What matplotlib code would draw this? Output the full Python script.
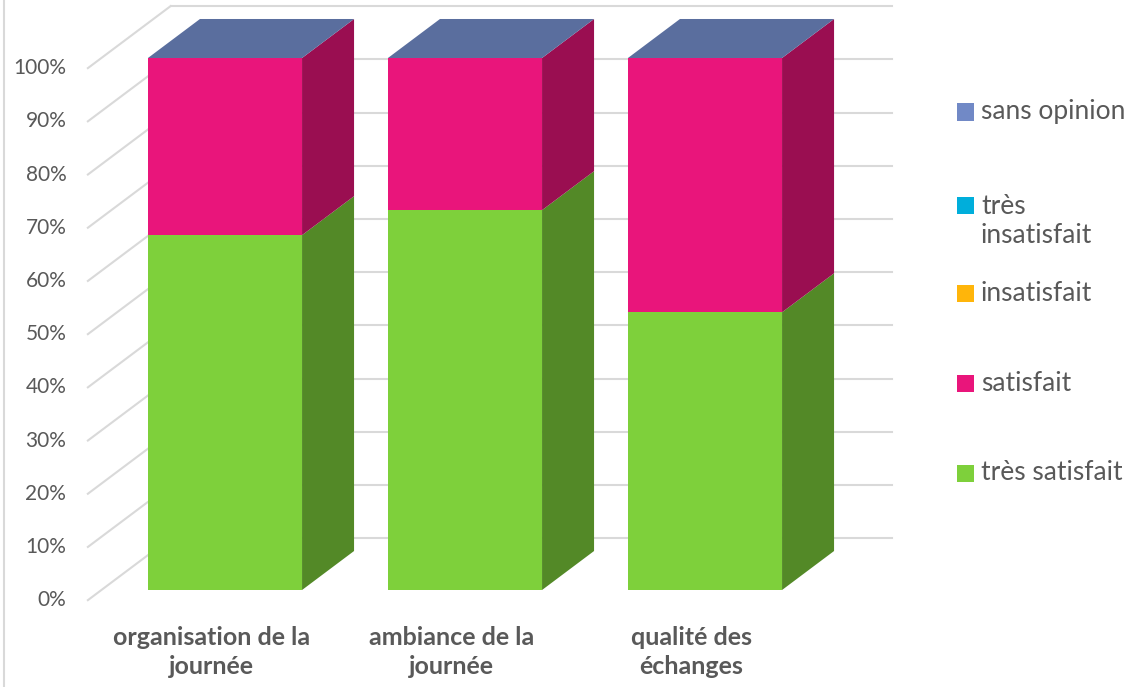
import matplotlib
matplotlib.use("Agg")
import matplotlib.pyplot as plt
from matplotlib.patches import Polygon, Rectangle
from matplotlib.lines import Line2D

# -------------- Data ----------------
categories = ["organisation de la\njournée", "ambiance de la\njournée", "qualité des\néchanges"]
series_names = ["très satisfait", "satisfait", "insatisfait", "très insatisfait", "sans opinion"]
tres_satisfait = [66.7, 71.4, 52.2]
satisfait = [33.3, 28.6, 47.8]
insatisfait = [0, 0, 0]
tres_insatisfait = [0, 0, 0]
sans_opinion = [0, 0, 0]
series_values = [tres_satisfait, satisfait, insatisfait, tres_insatisfait, sans_opinion]
colors = ["#7ED03B", "#E9157B", "#FFB50A", "#00AEDB", "#7189C6"]
yticks = [0, 10, 20, 30, 40, 50, 60, 70, 80, 90, 100]

plt.rcParams['font.family'] = ['Lato', 'DejaVu Sans']
TXT = "#595959"
GRID = "#D9D9D9"


def shade(c, f):
    r, g, b = matplotlib.colors.to_rgb(c)
    return (r * f, g * f, b * f)


# -------------- Figure / oblique projection setup ----------------
W, H = 1133, 687
fig = plt.figure(figsize=(W / 100, H / 100), dpi=100)
ax = fig.add_axes([0, 0, 1, 1])
ax.set_xlim(-0.9375, 3.7833)
ax.set_ylim(-18.23, 110.9)
ax.axis('off')

dx, dy = 0.2167, 7.33          # shift for one unit of depth
wall_front, wall_back = -0.26, 1.33
left_x0 = -0.515               # left wall x at depth 0
right_x = 2.779
half = 0.321                   # half bar width

# walls: gridlines
for v in yticks:
    xa, ya = left_x0 + wall_front * dx, v + wall_front * dy
    xb, yb = left_x0 + wall_back * dx, v + wall_back * dy
    ax.plot([xa, xb], [ya, yb], color=GRID, lw=1.5, zorder=1)
    ax.plot([xb, right_x], [yb, yb], color=GRID, lw=1.5, zorder=1)
    ax.text(xa - 0.09, ya, f"{v}%", ha='right', va='center', fontsize=15, color=TXT)

# bars
bottoms = [0.0] * len(categories)
for vals, col in zip(series_values, colors):
    for i, v in enumerate(vals):
        b, t = bottoms[i], bottoms[i] + v
        if v > 0:
            ax.add_patch(Rectangle((i - half, b), 2 * half, v, fc=col, ec='none', zorder=3))
            ax.add_patch(Polygon([(i + half, b), (i + half + dx, b + dy),
                                  (i + half + dx, t + dy), (i + half, t)],
                                 fc=shade(col, 0.66), ec='none', zorder=3))
        bottoms[i] = t

# top face (colour of the last series in the stack)
for i, t in enumerate(bottoms):
    ax.add_patch(Polygon([(i - half, t), (i + half, t), (i + half + dx, t + dy),
                          (i - half + dx, t + dy)],
                         fc=shade(colors[-1], 0.8), ec='none', zorder=3))

# category labels (centred on the front edge of the floor)
for i, c in enumerate(categories):
    ax.text(i + wall_front * dx, -11.6, c, ha='center', va='center', fontsize=18,
            fontweight='bold', color=TXT, linespacing=1.3)

# legend, drawn by hand to keep Excel's uneven spacing
legend_y = [473, 383, 293, 221, 112]
for name, col, y in zip(series_names, colors, legend_y):
    label = name.replace("très insatisfait", "très\ninsatisfait")
    ysq = y - 16 * label.count('\n')
    fig.patches.append(Rectangle((957 / W, 1 - (ysq + 8.5) / H), 17 / W, 17 / H,
                                 fc=col, ec='none', transform=fig.transFigure))
    fig.text(981 / W, 1 - y / H, label, ha='left', va='center',
             fontsize=19, color=TXT, linespacing=1.2)

# chart area border (left edge only visible)
fig.lines.append(Line2D([3.5 / W, 3.5 / W], [0, 1], color=GRID, lw=1.5,
                        transform=fig.transFigure))

fig.savefig("out.png", dpi=100)
